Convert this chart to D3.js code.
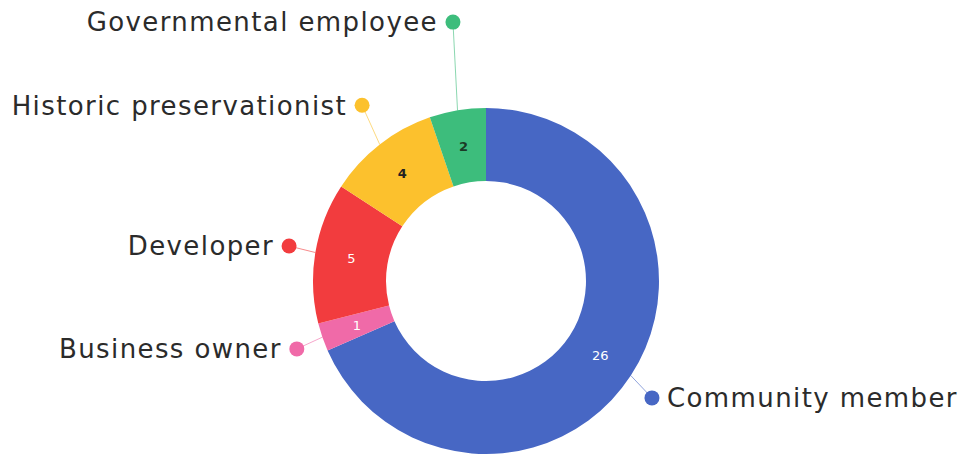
<!DOCTYPE html>
<html>
<head>
<meta charset="utf-8">
<script src="https://cdn.jsdelivr.net/npm/d3@7"></script>
<style>
  body { margin: 0; background: #fff; }
  text { font-family: "DejaVu Sans", sans-serif; }
</style>
</head>
<body>
<div id="chart"></div>
<script>
// data, clockwise from 12 o'clock
var categories = ['Community member', 'Business owner', 'Developer', 'Historic preservationist', 'Governmental employee']
var counts = [26, 1, 5, 4, 2]
var colors = ['#4767c4', '#f06aa8', '#f23c3e', '#fcc12d', '#3dbd7c']
var valueColors = ['#fff', '#fff', '#fff', '#222', '#1b3a26']

// label dot placement: distance from centre and nudge in degrees (keeps the top two apart)
var labelRadius = [203, 201, 200, 215, 261]
var labelNudge = [2, -0.8, 0.6, 2.7, 2.2]

var width = 967
var height = 456
var cx = 486
var cy = 281
var outerR = 173
var innerR = 100

var svg = d3
  .select('#chart')
  .append('svg')
  .attr('width', width)
  .attr('height', height)

var g = svg.append('g').attr('transform', 'translate(' + cx + ',' + cy + ')')

var rows = categories.map(function(c, i) {
  return {
    name: c,
    value: counts[i],
    color: colors[i],
    valueColor: valueColors[i],
    lr: labelRadius[i],
    nudge: labelNudge[i]
  }
})

var pie = d3
  .pie()
  .sort(null)
  .value(d => d.value)

var arc = d3
  .arc()
  .innerRadius(innerR)
  .outerRadius(outerR)

var arcs = pie(rows)

function polar(angle, r) {
  return [Math.sin(angle) * r, -Math.cos(angle) * r]
}

// slices
g.selectAll('.slice')
  .data(arcs)
  .enter()
  .append('path')
  .attr('class', 'slice')
  .attr('d', arc)
  .attr('fill', d => d.data.color)

// value labels
g.selectAll('.val')
  .data(arcs)
  .enter()
  .append('text')
  .attr('class', 'val')
  .attr('transform', d => 'translate(' + arc.centroid(d) + ')')
  .attr('text-anchor', 'middle')
  .attr('dy', '0.35em')
  .attr('font-size', 13)
  .attr('font-weight', d => (d.data.valueColor === '#fff' ? 400 : 700))
  .attr('fill', d => d.data.valueColor)
  .text(d => d.data.value)

// leader lines, dots and names
var labels = g
  .selectAll('.lab')
  .data(arcs)
  .enter()
  .append('g')
  .attr('class', 'lab')

labels.each(function(d) {
  var sel = d3.select(this)
  var mid = (d.startAngle + d.endAngle) / 2
  var p0 = polar(mid, outerR)
  var p1 = polar(mid + (d.data.nudge * Math.PI) / 180, d.data.lr)
  var right = Math.sin(mid) > 0

  sel
    .append('line')
    .attr('x1', p0[0])
    .attr('y1', p0[1])
    .attr('x2', p1[0])
    .attr('y2', p1[1])
    .attr('stroke', d.data.color)
    .attr('stroke-opacity', 0.6)
    .attr('stroke-width', 1)

  sel
    .append('circle')
    .attr('cx', p1[0])
    .attr('cy', p1[1])
    .attr('r', 7.5)
    .attr('fill', d.data.color)

  sel
    .append('text')
    .attr('x', p1[0] + (right ? 15 : -15))
    .attr('y', p1[1])
    .attr('dy', '0.36em')
    .attr('text-anchor', right ? 'start' : 'end')
    .attr('font-size', 26)
    .attr('letter-spacing', 1.4)
    .attr('fill', '#2b2b2b')
    .text(d.data.name)
})
</script>
</body>
</html>
